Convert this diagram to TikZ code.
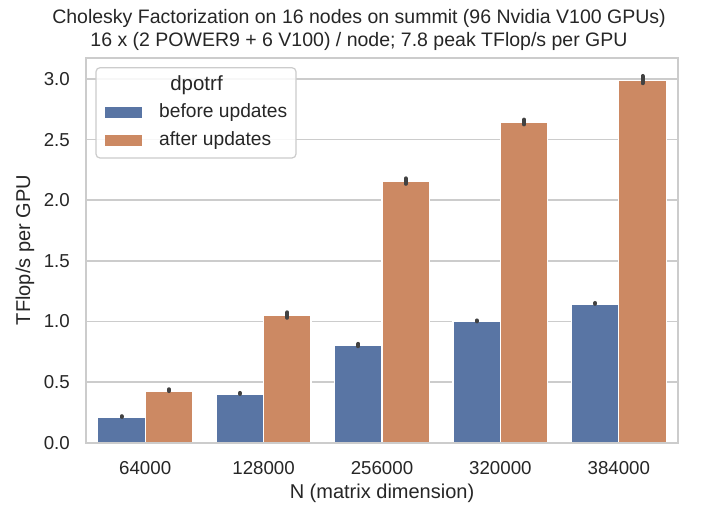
\documentclass[tikz,border=0pt]{standalone}
\usepackage{fontspec}
\setmainfont{Liberation Sans}
\definecolor{bblue}{HTML}{5975A4}
\definecolor{borange}{HTML}{CC8963}
\definecolor{gridc}{HTML}{CCCCCC}
\definecolor{txt}{HTML}{262626}
\definecolor{errc}{HTML}{424242}
\begin{document}
\begin{tikzpicture}[x=1pt,y=-1pt,
 tick/.style={font=\fontsize{18.7}{22}\selectfont, text=txt, inner sep=0pt},
 legtext/.style={font=\fontsize{19.2}{22}\selectfont, text=txt, inner sep=0pt},
 lab/.style={font=\fontsize{20}{24}\selectfont, text=txt, inner sep=0pt},
 ttl/.style={font=\fontsize{19.5}{24}\selectfont, text=txt, inner sep=0pt},
 barb/.style={fill=bblue, draw=white, line width=1.2pt},
 baro/.style={fill=borange, draw=white, line width=1.2pt},
 errbar/.style={draw=errc, line width=4pt, line cap=round},
 gridl/.style={draw=gridc, line width=1.5pt},
 spine/.style={draw=gridc, line width=2pt}]
\useasboundingbox (0,0) rectangle (718,508);
\fill[white] (0,0) rectangle (718,508);
% grid and y ticks
\foreach \v/\t [count=\k] in {0/0.0,0.5/0.5,1/1.0,1.5/1.5,2/2.0,2.5/2.5,3/3.0} {
  \draw[gridl] (86,{442.6-121.2*\v}) -- (678,{442.6-121.2*\v});
  \node[tick, anchor=east] (yt\k) at (70,{442.6-121.2*\v}) {\t};
}
% bars
\foreach \i/\b/\o/\lab in {0/0.21/0.42/64000,1/0.40/1.05/128000,2/0.80/2.155/256000,3/1.00/2.64/320000,4/1.14/2.99/384000} {
  \pgfmathsetmacro{\cx}{86+118.4*(\i+0.5)}
  \draw[barb] ({\cx-47.4},{442.6-121.2*\b}) rectangle (\cx,442.6);
  \draw[baro] (\cx,{442.6-121.2*\o}) rectangle ({\cx+47.4},442.6);
  \node[tick] (xt\i) at (\cx,468) {\lab};
}
% error bars
\foreach \i/\bl/\bh/\ol/\oh in {0/0.212/0.218/0.425/0.44,1/0.402/0.41/1.03/1.075,2/0.795/0.815/2.135/2.18,3/1.0/1.008/2.625/2.665,4/1.145/1.152/2.965/3.025} {
  \pgfmathsetmacro{\cx}{86+118.4*(\i+0.5)}
  \draw[errbar] ({\cx-23.7},{442.6-121.2*\bl}) -- ({\cx-23.7},{442.6-121.2*\bh});
  \draw[errbar] ({\cx+23.7},{442.6-121.2*\ol}) -- ({\cx+23.7},{442.6-121.2*\oh});
}
% spines
\draw[spine] (86,58) rectangle (678,442.6);
% labels
\node[lab, rotate=90] (ylab) at (25,250) {TFlop/s per GPU};
\node[lab] (xlab) at (382,493) {N (matrix dimension)};
\node[ttl] (title1) at (359,18.5) {Cholesky Factorization on 16 nodes on summit (96 Nvidia V100 GPUs)};
\node[ttl] (title2) at (359,41.5) {16 x (2 POWER9 + 6 V100) / node; 7.8 peak TFlop/s per GPU};
% legend
\draw[draw=gridc, fill=white, fill opacity=0.85, rounded corners=4pt, line width=1.2pt] (96,67.7) rectangle (296,158);
\node[font=\fontsize{20.5}{24}\selectfont, text=txt, inner sep=0pt] (legtitle) at (196.5,85) {dpotrf};
\fill[bblue] (105,107) rectangle (142,118.5);
\fill[borange] (105,135) rectangle (142,146.5);
\node[legtext, anchor=west] (leg1) at (159,113) {before updates};
\node[legtext, anchor=west] (leg2) at (159,141) {after updates};
\end{tikzpicture}
\end{document}
